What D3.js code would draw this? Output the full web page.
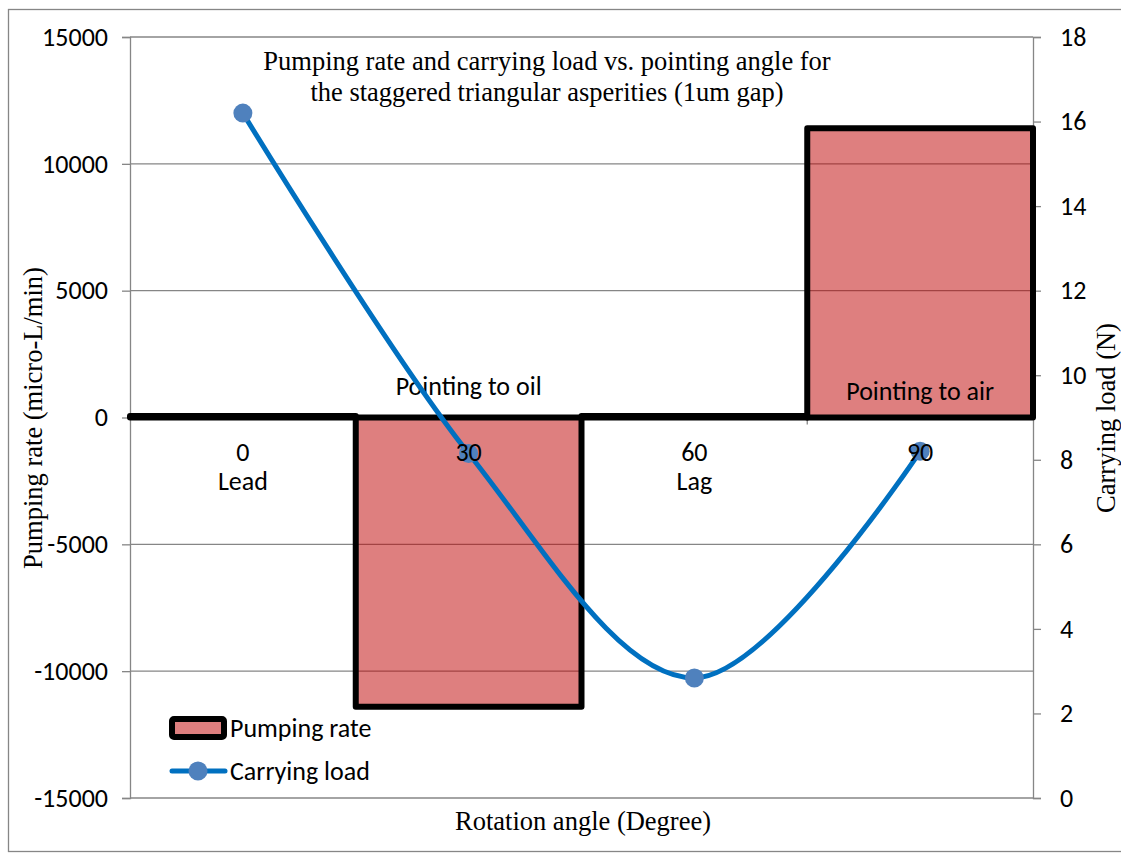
<!DOCTYPE html>
<html>
<head>
<meta charset="utf-8">
<script src="https://cdn.jsdelivr.net/npm/d3@7"></script>
<style>
  html, body { margin: 0; padding: 0; background: #fff; }
  svg { display: block; }
</style>
</head>
<body>
<svg id="chart" width="1121" height="855"></svg>
<script>
// ---- data ----
const categories = ["0", "30", "60", "90"];
const subLabels = ["Lead", "", "Lag", ""];
const pumpingRate = [60, -11400, 60, 11400];
const carryingLoad = [16.2, 8.15, 2.84, 8.2];
const barLabels = ["", "Pointing to oil", "", "Pointing to air"];
const leftTicks = [-15000, -10000, -5000, 0, 5000, 10000, 15000];
const rightTicks = [0, 2, 4, 6, 8, 10, 12, 14, 16, 18];
const titleLines = ["Pumping rate and carrying load vs. pointing angle for", "the staggered triangular asperities (1um gap)"];

// ---- layout ----
const svg = d3.select("#chart");
const L = 130, R = 1033, T = 37, B = 798;
const sansFont = "Carlito, Calibri, Lato, 'Open Sans', sans-serif";
const serifFont = "'Liberation Serif', 'Times New Roman', serif";
const sansSize = 26;
const serifSize = 26.5;
const gray = "#868686";

const x = d3.scaleBand().domain(categories).range([L, R]).padding(0);
const y = d3.scaleLinear().domain([-15000, 15000]).range([B, T]);
const y2 = d3.scaleLinear().domain([0, 18]).range([B, T]);

// outer border
svg.append("rect").attr("x", 8.5).attr("y", 9.5).attr("width", 1140).attr("height", 842)
  .attr("fill", "none").attr("stroke", gray).attr("stroke-width", 1.3);

// gridlines
svg.append("g").selectAll("line").data(leftTicks).join("line")
  .attr("x1", L).attr("x2", R)
  .attr("y1", d => y(d)).attr("y2", d => y(d))
  .attr("stroke", gray).attr("stroke-width", 1.3);

// left axis
const gLeft = svg.append("g").attr("transform", `translate(${L},0)`)
  .call(d3.axisLeft(y).tickValues(leftTicks).tickSize(8).tickPadding(14).tickFormat(d => String(d)));
gLeft.select(".domain").attr("stroke", gray).attr("stroke-width", 1.3);
gLeft.selectAll(".tick line").attr("stroke", gray).attr("stroke-width", 1.3);
gLeft.selectAll(".tick text").attr("font-family", sansFont).attr("font-size", sansSize).attr("fill", "#000");

// right axis
const gRight = svg.append("g").attr("transform", `translate(${R},0)`)
  .call(d3.axisRight(y2).tickValues(rightTicks).tickSize(8).tickPadding(19).tickFormat(d => String(d)));
gRight.select(".domain").attr("stroke", gray).attr("stroke-width", 1.3);
gRight.selectAll(".tick line").attr("stroke", gray).attr("stroke-width", 1.3);
gRight.selectAll(".tick text").attr("font-family", sansFont).attr("font-size", sansSize).attr("fill", "#000");

// category axis at zero
const gCat = svg.append("g").attr("transform", `translate(0,${y(0)})`);
gCat.append("line").attr("x1", L).attr("x2", R).attr("stroke", gray).attr("stroke-width", 1.3);
gCat.selectAll("line.tk").data(categories.slice(1)).join("line").attr("class", "tk")
  .attr("x1", d => x(d)).attr("x2", d => x(d)).attr("y1", 0).attr("y2", 7)
  .attr("stroke", gray).attr("stroke-width", 1.3);

// bars
svg.append("g").selectAll("rect").data(categories).join("rect")
  .attr("x", d => x(d))
  .attr("width", x.bandwidth())
  .attr("y", (d, i) => y(Math.max(0, pumpingRate[i])))
  .attr("height", (d, i) => Math.abs(y(pumpingRate[i]) - y(0)))
  .attr("fill", "rgb(190,0,0)").attr("fill-opacity", 0.5)
  .attr("stroke", "#000").attr("stroke-width", 6).attr("stroke-linejoin", "round");

// bar labels
svg.append("g").selectAll("text").data(categories).join("text")
  .attr("x", d => x(d) + x.bandwidth() / 2)
  .attr("y", (d, i) => i === 1 ? 395 : 400)
  .attr("text-anchor", "middle")
  .attr("font-family", sansFont).attr("font-size", sansSize).attr("fill", "#000")
  .text((d, i) => barLabels[i]);

// carrying load line
const cx = d => x(d) + x.bandwidth() / 2;
const line = d3.line().x(d => cx(d)).y(d => y2(carryingLoad[categories.indexOf(d)]))
  .curve(d3.curveCatmullRom.alpha(0));
svg.append("path").datum(categories).attr("d", line)
  .attr("fill", "none").attr("stroke", "#0070c0").attr("stroke-width", 5).attr("stroke-linecap", "round");
svg.append("g").selectAll("circle").data(categories).join("circle")
  .attr("cx", d => cx(d)).attr("cy", (d, i) => y2(carryingLoad[i])).attr("r", 9.5)
  .attr("fill", "#4f81bd");

// category labels
const gLab = svg.append("g");
gLab.selectAll("text.c").data(categories).join("text").attr("class", "c")
  .attr("x", d => cx(d)).attr("y", 461).attr("text-anchor", "middle")
  .attr("font-family", sansFont).attr("font-size", sansSize).attr("fill", "#000").text(d => d);
gLab.selectAll("text.s").data(categories).join("text").attr("class", "s")
  .attr("x", d => cx(d)).attr("y", 490).attr("text-anchor", "middle")
  .attr("font-family", sansFont).attr("font-size", sansSize).attr("fill", "#000").text((d, i) => subLabels[i]);

// title
svg.append("g").selectAll("text").data(titleLines).join("text")
  .attr("x", 547).attr("y", (d, i) => 70 + i * 31).attr("text-anchor", "middle")
  .attr("font-family", serifFont).attr("font-size", serifSize).attr("fill", "#000").text(d => d);

// axis titles
svg.append("text").attr("transform", "translate(42,418) rotate(-90)").attr("text-anchor", "middle")
  .attr("font-family", serifFont).attr("font-size", serifSize).attr("fill", "#000")
  .text("Pumping rate (micro-L/min)");
svg.append("text").attr("transform", "translate(1115,418) rotate(-90)").attr("text-anchor", "middle")
  .attr("font-family", serifFont).attr("font-size", serifSize).attr("fill", "#000")
  .text("Carrying load (N)");
svg.append("text").attr("x", 583).attr("y", 830).attr("text-anchor", "middle")
  .attr("font-family", serifFont).attr("font-size", serifSize).attr("fill", "#000")
  .text("Rotation angle (Degree)");

// legend
const lg = svg.append("g");
lg.append("rect").attr("x", 172).attr("y", 719).attr("width", 52).attr("height", 18).attr("rx", 2)
  .attr("fill", "rgb(190,0,0)").attr("fill-opacity", 0.5).attr("stroke", "#000").attr("stroke-width", 6);
lg.append("text").attr("x", 230).attr("y", 737).attr("font-family", sansFont).attr("font-size", sansSize)
  .attr("fill", "#000").text("Pumping rate");
lg.append("line").attr("x1", 172).attr("x2", 225).attr("y1", 771).attr("y2", 771)
  .attr("stroke", "#0070c0").attr("stroke-width", 5).attr("stroke-linecap", "round");
lg.append("circle").attr("cx", 198).attr("cy", 771).attr("r", 9.5).attr("fill", "#4f81bd");
lg.append("text").attr("x", 230).attr("y", 780).attr("font-family", sansFont).attr("font-size", sansSize)
  .attr("fill", "#000").text("Carrying load");
</script>
</body>
</html>
